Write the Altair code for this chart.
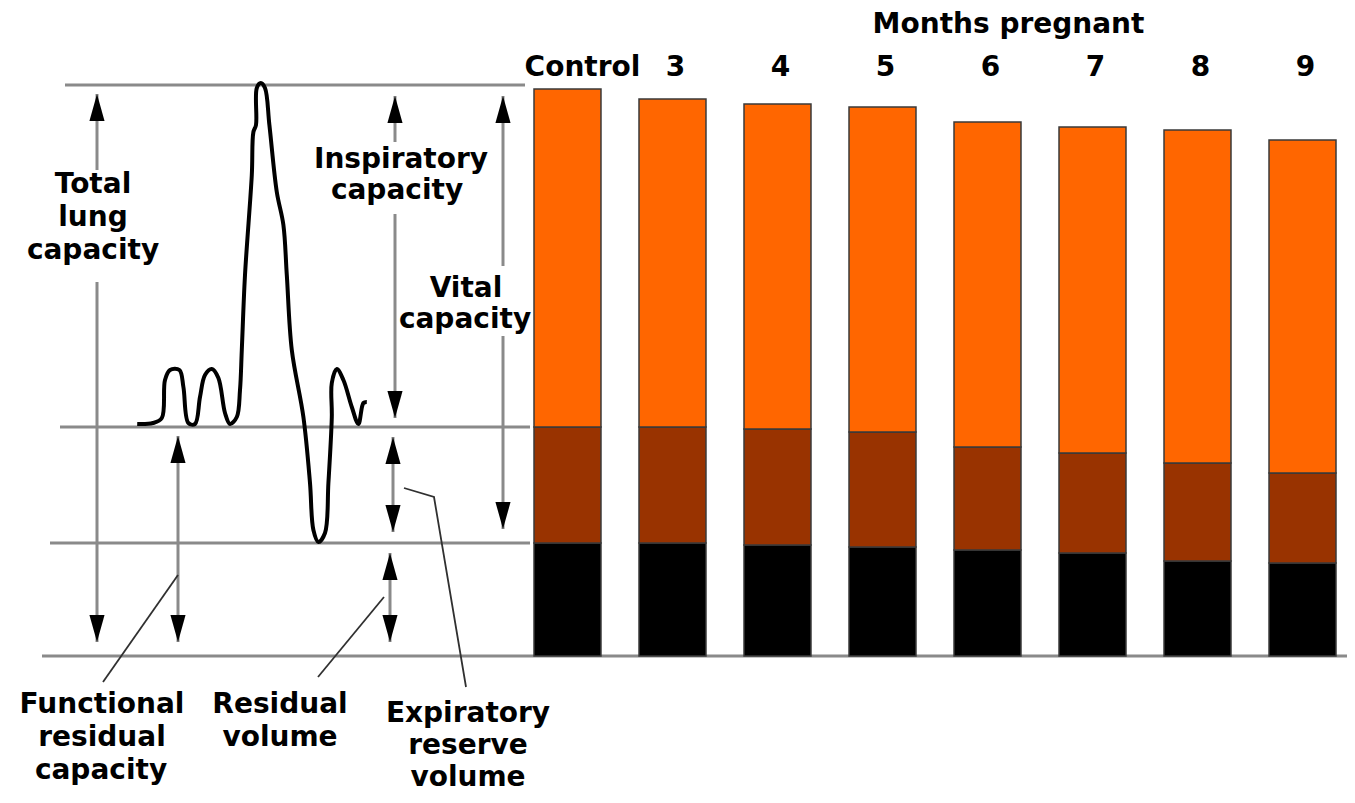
import altair as alt
import pandas as pd

# ---------------- bar data: lung volumes (litres) ----------------
stages = ["Control", "3", "4", "5", "6", "7", "8", "9"]
residual_volume = [1.13, 1.13, 1.11, 1.09, 1.06, 1.03, 0.95, 0.93]
expiratory_reserve = [1.16, 1.16, 1.16, 1.15, 1.03, 1.00, 0.98, 0.90]
inspiratory_capacity = [3.38, 3.28, 3.25, 3.25, 3.25, 3.26, 3.33, 3.33]
parts = ["Residual volume", "Expiratory reserve volume", "Inspiratory capacity"]
part_colors = ["#000000", "#993300", "#ff6600"]

# ---------------- spirogram trace (time s, volume L) ----------------
trace_t = [-0.14, 0.65, 1.09, 1.25, 1.5, 1.97, 2.17, 2.42, 2.75, 3.0, 3.25, 3.59,
           3.92, 4.25, 4.5, 4.84, 5.0, 5.09, 5.25, 5.59, 5.67, 5.8, 5.84, 6.04,
           6.25, 6.47, 6.84, 7.17, 7.34, 7.59, 8.17, 8.5, 8.67, 8.92, 9.25, 9.42,
           9.59, 9.59, 9.84, 10.17, 10.59, 10.92, 11.17, 11.34]
trace_v = [2.32, 2.33, 2.38, 2.76, 2.86, 2.86, 2.69, 2.33, 2.32, 2.59, 2.81, 2.87,
           2.78, 2.43, 2.32, 2.39, 2.66, 3.06, 3.81, 4.81, 5.24, 5.31, 5.68, 5.73,
           5.68, 5.31, 4.64, 4.31, 3.81, 3.06, 2.39, 1.73, 1.26, 1.14, 1.23, 1.73,
           2.39, 2.73, 2.87, 2.76, 2.49, 2.32, 2.53, 2.54]

# reference volume levels (horizontal gray lines)
level_v = [5.71, 2.29, 1.13, 0.0]
level_t0 = [-3.75, -4.0, -4.5, -4.9]
level_t1 = [19.25, 19.5, 19.5, 60.35]

# double-headed arrows (gray shafts)
shaft_t = [-2.15, -2.15, 1.9, 12.75, 12.75, 18.15, 18.15, 12.65, 12.5]
shaft_v0 = [5.62, 3.74, 2.20, 5.60, 4.42, 5.60, 3.20, 2.19, 1.03]
shaft_v1 = [4.86, 0.14, 0.14, 5.14, 2.38, 3.90, 1.27, 1.24, 0.14]

# arrow heads
head_t = [-2.15, 1.9, 12.75, 18.15, 12.65, 12.5, -2.15, 1.9, 12.75, 18.15, 12.65, 12.5]
head_v = [5.62, 2.20, 5.60, 5.60, 2.19, 1.03, 0.14, 0.14, 2.38, 1.27, 1.24, 0.14]
head_dir = ["up"] * 6 + ["down"] * 6

# leader lines from labels to arrows
leader_id = ["frc", "frc", "rv", "rv", "erv", "erv", "erv"]
leader_t = [1.9, -1.85, 12.2, 8.9, 13.2, 14.7, 16.3]
leader_v = [0.81, -0.26, 0.59, -0.21, 1.68, 1.59, -0.31]

# annotation text (one row per line)
label_text = ["Total", "lung", "capacity",
              "Inspiratory", "capacity",
              "Vital", "capacity",
              "Functional", "residual", "capacity",
              "Residual", "volume",
              "Expiratory", "reserve", "volume"]
label_t = [-2.35, -2.35, -2.35,
           13.05, 12.85,
           16.3, 16.25,
           -1.9, -1.9, -1.95,
           7.0, 7.0,
           16.4, 16.4, 16.4]
label_v = [4.63, 4.30, 3.97,
           4.88, 4.57,
           3.59, 3.28,
           -0.57, -0.90, -1.23,
           -0.57, -0.90,
           -0.66, -0.98, -1.30]

FONT = "DejaVu Sans"
FS = 28
T_DOMAIN = [-6.6, 60.35]
V_DOMAIN = [-1.39, 5.76]
BAR_RANGE = [526, 1328]

bar_rows = []
for i, s in enumerate(stages):
    for k, (p, vals) in enumerate(zip(parts, [residual_volume, expiratory_reserve, inspiratory_capacity])):
        bar_rows.append({"stage": s, "part": p, "v": vals[i], "ord": k})
bars_df = pd.DataFrame(bar_rows)

trace_df = pd.DataFrame({"t": trace_t, "v": trace_v, "i": list(range(len(trace_t)))})
levels_df = pd.DataFrame({"t": level_t0, "t2": level_t1, "v": level_v})
shafts_df = pd.DataFrame({"t": shaft_t, "v": shaft_v0, "v2": shaft_v1})
heads_df = pd.DataFrame({"t": head_t, "v": head_v, "dir": head_dir})
leaders_df = pd.DataFrame({"id": leader_id, "t": leader_t, "v": leader_v,
                           "i": list(range(len(leader_t)))})
labels_df = pd.DataFrame({"text": label_text, "t": label_t, "v": label_v})

xs = alt.Scale(domain=T_DOMAIN, nice=False, zero=False)
ys = alt.Scale(domain=V_DOMAIN, nice=False, zero=False)
X = lambda f="t": alt.X(f"{f}:Q", scale=xs, axis=None)
Y = lambda f="v": alt.Y(f"{f}:Q", scale=ys, axis=None)

bars = alt.Chart(bars_df).mark_bar(stroke="#3a3a3a", strokeWidth=1.5).encode(
    x=alt.X("stage:N", sort=stages,
            scale=alt.Scale(paddingInner=0.362, paddingOuter=0, range=BAR_RANGE),
            axis=alt.Axis(orient="top", title="Months pregnant", labelAngle=0,
                          domain=False, ticks=False, tickSize=0, grid=False,
                          labelFont=FONT, labelFontSize=FS, labelFontWeight="bold",
                          labelColor="black", labelPadding=5, labelBaseline="alphabetic",
                          labelOffset={"condition": {"test": "datum.value === 'Control'", "value": 15}, "value": 3},
                          titleFont=FONT, titleFontSize=FS, titleFontWeight="bold",
                          titleColor="black", titleX=1000, titleY=-48,
                          titleAlign="center", titleBaseline="alphabetic")),
    y=alt.Y("v:Q", stack="zero", scale=ys, axis=None),
    color=alt.Color("part:N", scale=alt.Scale(domain=parts, range=part_colors), legend=None),
    order=alt.Order("ord:Q"),
)

levels = alt.Chart(levels_df).mark_rule(color="#8a8a8a", strokeWidth=3).encode(
    x=X(), x2="t2:Q", y=Y())

shafts = alt.Chart(shafts_df).mark_rule(color="#8a8a8a", strokeWidth=3).encode(
    x=X(), y=Y(), y2="v2:Q")

up_path = "M0,0 L0.28,1 L-0.28,1 Z"
down_path = "M0,0 L0.28,-1 L-0.28,-1 Z"
heads = alt.Chart(heads_df).mark_point(filled=True, opacity=1, color="black", size=2916, strokeWidth=0).encode(
    x=X(), y=Y(),
    shape=alt.Shape("dir:N", scale=alt.Scale(domain=["up", "down"], range=[up_path, down_path]), legend=None))

leaders = alt.Chart(leaders_df).mark_line(color="#303030", strokeWidth=1.8).encode(
    x=X(), y=Y(), detail="id:N", order="i:Q")

trace = alt.Chart(trace_df).mark_line(color="black", strokeWidth=4, interpolate="catmull-rom").encode(
    x=X(), y=Y(), order="i:Q")

labels = alt.Chart(labels_df).mark_text(font=FONT, fontSize=FS, fontWeight="bold", color="black",
                                        align="center", baseline="alphabetic").encode(
    x=X(), y=Y(), text="text:N")

chart = alt.layer(levels, bars, shafts, heads, leaders, trace, labels).resolve_scale(
    x="independent"
).properties(
    width=1339, height=715,
    padding={"left": 0, "top": 72, "right": 0, "bottom": 0},
    autosize=alt.AutoSizeParams(type="none"),
    background="white",
).configure_view(stroke=None)

chart.save("out.html", embed_options={"renderer": "svg", "actions": False})
